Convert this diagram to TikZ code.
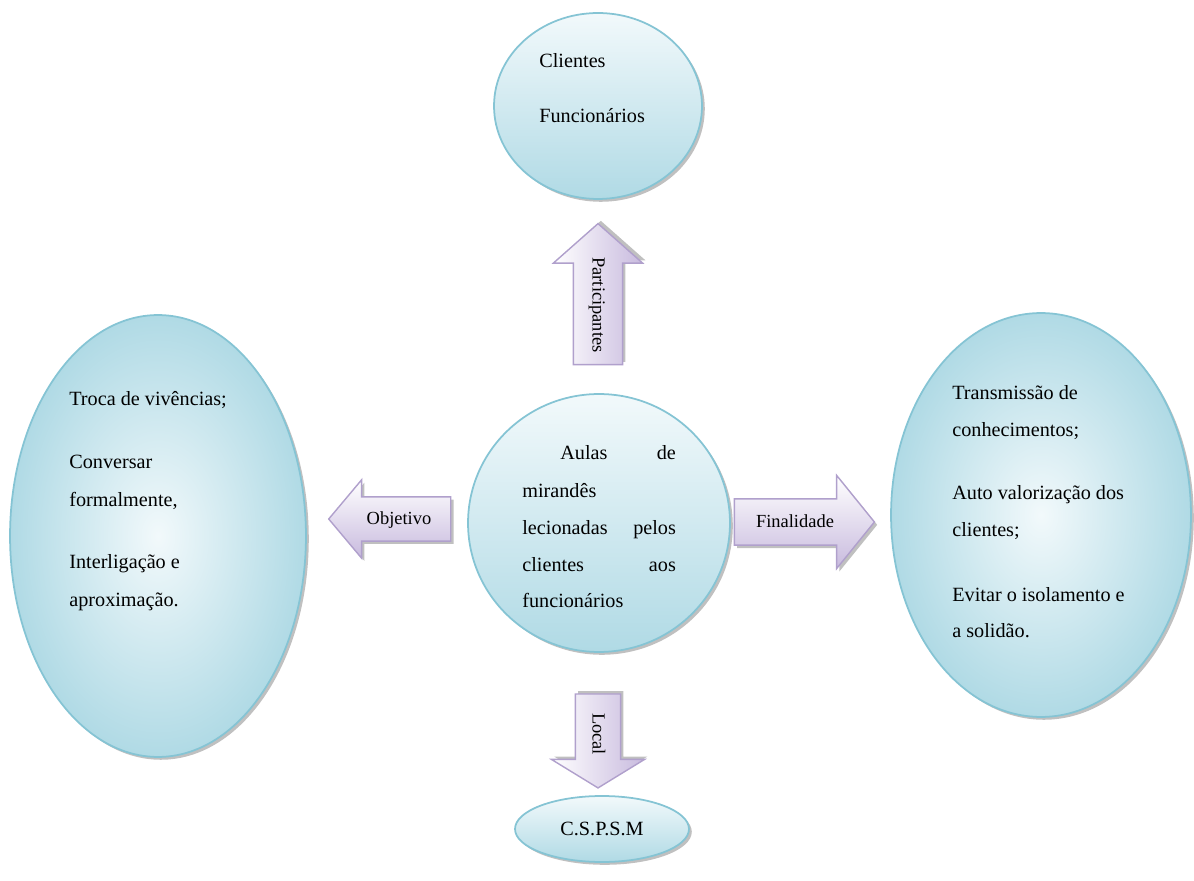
\documentclass[tikz,border=0pt]{standalone}
\usepackage{fontspec}
\setmainfont{Liberation Serif}
\usetikzlibrary{shapes.geometric,shapes.arrows,shadows}

\definecolor{ringline}{RGB}{133,196,212}
\definecolor{ringlight}{RGB}{242,249,251}
\definecolor{ringdark}{RGB}{176,218,229}
\definecolor{arrowline}{RGB}{176,160,204}
\definecolor{arrowdark}{RGB}{200,186,222}

\tikzset{
  bubble/.style={ellipse, draw=ringline, line width=1pt, inner sep=0pt,
    top color=ringlight, bottom color=ringdark,
    drop shadow={shadow xshift=1.6pt, shadow yshift=-1.6pt, fill=black!45, opacity=.55}},
  bigbubble/.style={bubble, inner color=ringlight, outer color=ringdark},
  blockarrow/.style={single arrow, draw=arrowline, line width=.8pt,
    single arrow head indent=0pt, inner xsep=0pt, minimum width=0pt,
    text height=8pt, text depth=2pt, font=\fontsize{10.5}{12}\selectfont},
  flatarrow/.style={blockarrow, top color=white, bottom color=arrowdark,
    drop shadow={shadow xshift=1.6pt, shadow yshift=-1.6pt, fill=black!45, opacity=.55}},
  uprightarrow/.style={blockarrow, rotate=-90, left color=white, right color=arrowdark,
    drop shadow={shadow xshift=1.6pt, shadow yshift=1.6pt, fill=black!45, opacity=.55}},
  words/.style={anchor=base west, inner sep=0pt, font=\fontsize{11.5}{14}\selectfont}
}

\begin{document}
\begin{tikzpicture}[x=0.02cm, y=-0.02cm]
  \useasboundingbox (0,0) rectangle (1194,881);

  % Bubbles
  \node[bubble, minimum width=4.16cm, minimum height=3.72cm] (part) at (598,106) {};
  \node[bigbubble, minimum width=5.92cm, minimum height=8.84cm] (obj) at (158,536) {};
  \node[bigbubble, minimum width=6.0cm, minimum height=8.08cm] (fin) at (1041,515) {};
  \node[bubble, minimum width=5.24cm, minimum height=5.16cm] (aulas) at (599,523) {};
  \node[bubble, minimum width=3.48cm, minimum height=1.32cm,
        font=\fontsize{11.5}{14}\selectfont] (local) at (602,829) {C.S.P.S.M};

  % Block arrows
  \node[uprightarrow, shape border rotate=180, minimum height=2.82cm, inner ysep=8.6pt,
        single arrow head extend=0.4cm, single arrow tip angle=97] (toPart) at (598,305) {Participantes};
  \node[uprightarrow, minimum height=1.88cm, inner ysep=7.5pt,
        single arrow head extend=0.48cm, single arrow tip angle=117] (toLocal) at (598,734) {Local};
  \node[flatarrow, shape border rotate=180, minimum height=2.44cm, inner ysep=7.2pt,
        single arrow head extend=0.34cm, single arrow tip angle=100] (toObj) at (399,519) {Objetivo};
  \node[flatarrow, minimum height=2.8cm, inner ysep=7.8pt,
        single arrow head extend=0.47cm, single arrow tip angle=102] (toFin) at (795,522) {Finalidade};

  % Texts top
  \node[words] (part-1) at (539,68) {Clientes};
  \node[words] (part-2) at (539,123) {Funcionários};

  % Texts left
  \foreach \y/\t [count=\i] in {406/{Troca de vivências;}, 469/{Conversar}, 507/{formalmente,},
                                569/{Interligação e}, 607/{aproximação.}}
  {\node[words] (obj-\i) at (69,\y) {\t};}

  % Texts right
  \foreach \y/\t [count=\i] in {400/{Transmissão de}, 437/{conhecimentos;}, 500/{Auto valorização dos},
                                537/{clientes;}, 602/{Evitar o isolamento e}, 638/{a solidão.}}
  {\node[words] (fin-\i) at (952,\y) {\t};}

  % Texts centre
  \node[words] (aulas-1) at (560,460) {\makebox[65.8pt]{Aulas\hfill de}};
  \node[words] (aulas-2) at (522,498) {mirandês};
  \node[words] (aulas-3) at (522,535) {\makebox[87.4pt]{lecionadas\hfill pelos}};
  \node[words] (aulas-4) at (522,572) {\makebox[87.4pt]{clientes\hfill aos}};
  \node[words] (aulas-5) at (522,608) {funcionários};
\end{tikzpicture}
\end{document}
